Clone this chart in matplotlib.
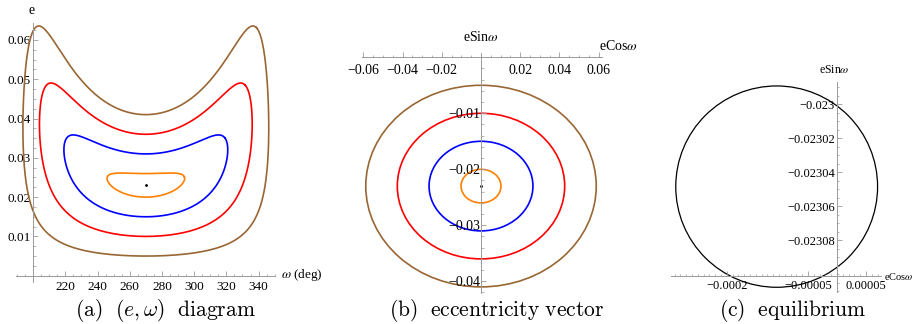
import numpy as np
import matplotlib.pyplot as plt
from matplotlib.patches import Ellipse
from matplotlib.ticker import FixedLocator, FixedFormatter, MultipleLocator

plt.rcParams['font.family'] = 'Liberation Serif'
plt.rcParams['mathtext.fontset'] = 'stix'

W, H = 918, 324

# trajectories in the eccentricity plane (ellipses around the equilibrium)
orbit_colors = ['#FF8000', '#0000FF', '#FF0000', '#996633']
semi_cos = [0.0102, 0.0265, 0.0427, 0.0588]
semi_sin = [0.0030, 0.0080, 0.0130, 0.0180]
center_cos = 0.0
center_sin = -0.0230

# zoom on the equilibrium
eq_center = (-0.000104, -0.0230484)
eq_semi = (0.000174, 0.0000592)

omega_ticks = [220, 240, 260, 280, 300, 320, 340]
e_ticks = [0.01, 0.02, 0.03, 0.04, 0.05, 0.06]
cos_ticks = [-0.06, -0.04, -0.02, 0.02, 0.04, 0.06]
sin_ticks = [-0.01, -0.02, -0.03, -0.04]
eq_cos_ticks = [-0.00019, -0.00005, 0.00005]
eq_cos_labels = ['\u22120.0002', '\u22120.00005', '0.00005']
eq_sin_ticks = [-0.023, -0.02302, -0.02304, -0.02306, -0.02308]
eq_sin_labels = ['\u22120.023', '\u22120.02302', '\u22120.02304', '\u22120.02306', '\u22120.02308']

captions = [r'$\mathrm{(a)}\ \ (e,\omega)\ \ \mathrm{diagram}$',
            r'$\mathrm{(b)\ \ eccentricity\ vector}$',
            r'$\mathrm{(c)\ \ equilibrium}$']
caption_x = [165, 497, 793]

GREY = '#9a9a9a'

fig = plt.figure(figsize=(W / 100, H / 100), dpi=100)


def box(l, t, r, b):
    return fig.add_axes([l / W, 1 - b / H, (r - l) / W, (b - t) / H])


def axes_style(ax, x0, y0, size):
    ax.patch.set_visible(False)
    for s in ['top', 'right']:
        ax.spines[s].set_visible(False)
    ax.spines['left'].set_position(('data', x0))
    ax.spines['bottom'].set_position(('data', y0))
    for s in ['left', 'bottom']:
        ax.spines[s].set_color(GREY)
        ax.spines[s].set_linewidth(0.7)
    ax.tick_params(which='major', direction='in', length=3.5, width=0.6,
                   color=GREY, labelsize=size, pad=3.5)
    ax.tick_params(which='minor', direction='in', length=1.8, width=0.5,
                   color=GREY)
    ax.tick_params(axis='y', pad=1.5)


t = np.linspace(0, 2 * np.pi, 600)

# (a) e-omega diagram
ax1 = box(16, 22.7, 275.5, 282)
ax1.set_xlim(189.4, 350.5)
ax1.set_ylim(-0.0016, 0.0644)
axes_style(ax1, 200, 0, 9.5)
for a, b, c in zip(semi_cos, semi_sin, orbit_colors):
    x = center_cos + a * np.cos(t)
    y = center_sin + b * np.sin(t)
    om = np.degrees(np.arctan2(y, x)) % 360
    ax1.plot(om, np.hypot(x, y), color=c, lw=1.2)
ax1.plot([270], [-center_sin], 'k.', ms=2)
ax1.xaxis.set_major_locator(FixedLocator(omega_ticks))
ax1.xaxis.set_minor_locator(MultipleLocator(5))
ax1.yaxis.set_major_locator(FixedLocator(e_ticks))
ax1.yaxis.set_minor_locator(MultipleLocator(0.0025))
ax1.yaxis.set_major_formatter(FixedFormatter(['%.2f' % v for v in e_ticks]))
fig.text(32 / W, 1 - 10 / H, 'e', ha='center', va='center', fontsize=10)
fig.text(281 / W, 1 - 275 / H, r'$\omega$ (deg)', ha='left', va='center', fontsize=9.5)

# (b) eccentricity vector
ax2 = box(361.7, 52.7, 601.7, 293)
ax2.set_xlim(-0.06087, 0.06158)
ax2.set_ylim(-0.04209, 0.00082)
axes_style(ax2, 0, 0, 10)
for a, b, c in zip(semi_cos, semi_sin, orbit_colors):
    ax2.add_patch(Ellipse((center_cos, center_sin), 2 * a, 2 * b,
                          fill=False, ec=c, lw=1.2))
ax2.plot([center_cos], [center_sin], 'k.', ms=2)
ax2.xaxis.set_major_locator(FixedLocator(cos_ticks))
ax2.xaxis.set_major_formatter(FixedFormatter(
    [('%.2f' % v).replace('-', '\u2212') for v in cos_ticks]))
ax2.xaxis.set_minor_locator(MultipleLocator(0.005))
ax2.yaxis.set_major_locator(FixedLocator(sin_ticks))
ax2.yaxis.set_major_formatter(FixedFormatter(
    [('%.2f' % v).replace('-', '\u2212') for v in sin_ticks]))
ax2.yaxis.set_minor_locator(MultipleLocator(0.002))
ax2.tick_params(axis='x', pad=4.5)
ax2.tick_params(axis='y', pad=0.5)
fig.text(481 / W, 1 - 37 / H, r'eSin$\omega$', ha='center', va='center', fontsize=10)
fig.text(599 / W, 1 - 46 / H, r'eCos$\omega$', ha='left', va='center', fontsize=10)

# (c) equilibrium
ax3 = box(671, 81.7, 881, 291.7)
ax3.set_xlim(-0.0002862, 0.0000759)
ax3.set_ylim(-0.0231102, -0.0229867)
axes_style(ax3, 0, -0.0231010, 9)
ax3.add_patch(Ellipse(eq_center, 2 * eq_semi[0], 2 * eq_semi[1],
                      fill=False, ec='black', lw=0.9))
ax3.xaxis.set_major_locator(FixedLocator(eq_cos_ticks))
ax3.xaxis.set_major_formatter(FixedFormatter(eq_cos_labels))
ax3.xaxis.set_minor_locator(MultipleLocator(0.00001))
ax3.yaxis.set_major_locator(FixedLocator(eq_sin_ticks))
ax3.yaxis.set_major_formatter(FixedFormatter(eq_sin_labels))
ax3.yaxis.set_minor_locator(MultipleLocator(0.000005))
ax3.tick_params(which='minor', length=1.2)
ax3.tick_params(axis='x', pad=3)
fig.text(834 / W, 1 - 70 / H, r'eSin$\omega$', ha='center', va='center', fontsize=8.5)
fig.text(884 / W, 1 - 277 / H, r'eCos$\omega$', ha='left', va='center', fontsize=7.5)

for cap, cx in zip(captions, caption_x):
    fig.text(cx / W, 1 - 311 / H, cap, ha='center', va='center', fontsize=15.5,
             math_fontfamily='cm')

fig.savefig('out.png', dpi=100)
